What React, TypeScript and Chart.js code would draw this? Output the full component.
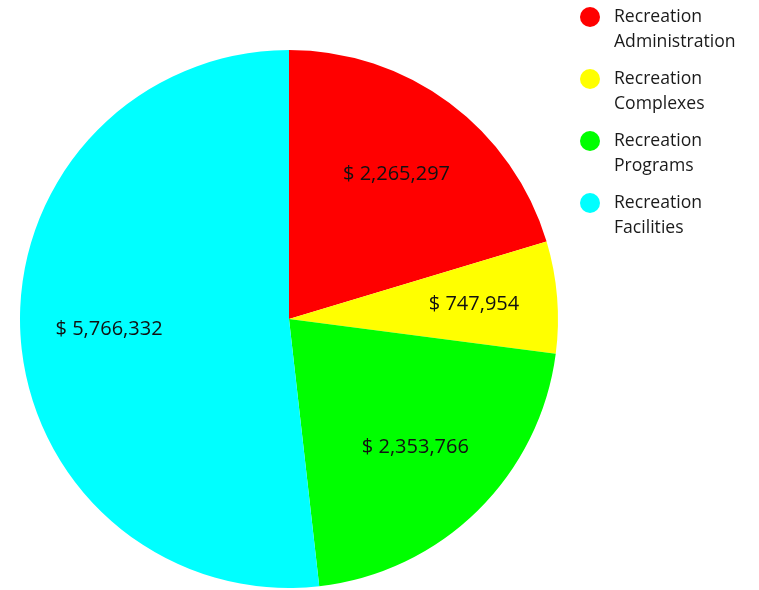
import React, { useEffect, useRef } from "react";
import { Chart, registerables } from "chart.js";

Chart.register(...registerables);

const categories = [
  ["Recreation", "Administration"],
  ["Recreation", "Complexes"],
  ["Recreation", "Programs"],
  ["Recreation", "Facilities"],
];
const values = [2265297, 747954, 2353766, 5766332];
const colors = ["#ff0000", "#ffff00", "#00ff00", "#00ffff"];

const FONT = "'Open Sans', 'Noto Sans', sans-serif";

const fmt = (v: number) => "$ " + v.toLocaleString("en-US");

const labelPlugin = {
  id: "sliceLabels",
  afterDatasetsDraw(chart: any) {
    const ctx = chart.ctx;
    const meta = chart.getDatasetMeta(0);
    ctx.save();
    ctx.font = `20px ${FONT}`;
    ctx.fillStyle = "#111";
    ctx.textAlign = "center";
    ctx.textBaseline = "middle";
    meta.data.forEach((arc: any, i: number) => {
      const { x, y, startAngle, endAngle, outerRadius } = arc.getProps(
        ["x", "y", "startAngle", "endAngle", "outerRadius"],
        true
      );
      const mid = (startAngle + endAngle) / 2;
      const r = outerRadius * (endAngle - startAngle < 0.6 ? 0.69 : 0.67);
      ctx.fillText(fmt(values[i]), x + Math.cos(mid) * r, y + Math.sin(mid) * r);
    });
    ctx.restore();
  },
};

const legendPlugin = {
  id: "customLegend",
  afterDraw(chart: any) {
    const ctx = chart.ctx;
    ctx.save();
    ctx.font = `17.6px ${FONT}`;
    ctx.textAlign = "left";
    ctx.textBaseline = "middle";
    categories.forEach((lines, i) => {
      const y0 = 17 + i * 62;
      ctx.beginPath();
      ctx.fillStyle = colors[i];
      ctx.arc(590, y0, 10, 0, Math.PI * 2);
      ctx.fill();
      ctx.fillStyle = "#1a1a1a";
      lines.forEach((t, j) => ctx.fillText(t, 614, y0 + j * 25));
    });
    ctx.restore();
  },
};

export default function App() {
  const ref = useRef<HTMLCanvasElement>(null);
  useEffect(() => {
    if (!ref.current) return;
    const chart = new Chart(ref.current, {
      type: "pie",
      data: {
        labels: categories.map((c) => c.join(" ")),
        datasets: [
          {
            data: values,
            backgroundColor: colors,
            borderWidth: 0,
          },
        ],
      },
      options: {
        responsive: false,
        animation: false,
        layout: { padding: { left: 20, right: 201, top: 49, bottom: 1 } },
        plugins: {
          legend: { display: false },
          tooltip: { enabled: false },
        },
      },
      plugins: [labelPlugin, legendPlugin],
    });
    return () => chart.destroy();
  }, []);
  return (
    <div style={{ position: "fixed", left: 0, top: 0, width: 759, height: 590, background: "#fff" }}>
      <canvas ref={ref} width={759} height={590} style={{ width: 759, height: 590 }} />
    </div>
  );
}
